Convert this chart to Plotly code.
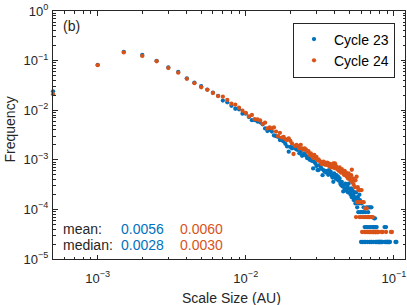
import plotly.graph_objects as go

# ---- data ---------------------------------------------------------------
bin_width = 0.0005
n_bins = 212
scale_size = [round(bin_width * k, 4) for k in range(1, n_bins + 1)]

cycle23 = [
    0.024, 0.082, 0.150, 0.130, 0.099, 0.073, 0.059, 0.044, 0.036, 0.0305,
    0.026, 0.0225, 0.0195, 0.0156, 0.0144, 0.0123, 0.0107, 0.0104, 0.0085, 0.0085,
    0.0073, 0.0063, 0.0063, 0.0059, 0.0057, 0.0052, 0.0043, 0.0038, 0.0040, 0.0037,
    0.0031, 0.0030, 0.0029, 0.0025, 0.0025, 0.00235, 0.0021, 0.00186, 0.00146, 0.00182,
    0.0017, 0.0018, 0.0017, 0.00162, 0.00158, 0.00135, 0.00145, 0.0012, 0.00128, 0.00135,
    0.0012, 0.00108, 0.00112, 0.00100, 0.00105, 0.00095, 0.00067, 0.00091, 0.00085, 0.00075,
    0.00062, 0.00062, 0.00078, 0.00072, 0.00066, 0.00049, 0.00062, 0.00058, 0.00059, 0.00055,
    0.00060, 0.00050, 0.00062, 0.00052, 0.00057, 0.00048, 0.00044, 0.00036, 0.00053, 0.00046,
    0.00042, 0.00049, 0.00040, 0.00046, 0.00038, 0.00042, 0.00033, 0.00031, 0.00036, 0.00029,
    0.00023, 0.00031, 0.00026, 0.00033, 0.00024, 0.00026, 0.00029, 0.00022, 0.00033, 0.00026,
    # k = 101 .. 212 (low counts)
    2.2e-4, 1.98e-4, 2.64e-4, 1.76e-4, 2.42e-4, 1.98e-4, 1.54e-4, 2.2e-4, 1.76e-4, 1.32e-4,
    2.2e-4, 1.54e-4, 1.1e-4, 1.76e-4, 8.8e-5, 1.32e-4, 1.98e-4, 1.54e-4, 8.8e-5, 2.2e-5,
    1.32e-4, 8.8e-5, 2.2e-5, 8.8e-5, 1.1e-4, 2.2e-5, 4.4e-5, 8.8e-5, 2.2e-5, 4.4e-5,
    1.1e-4, 4.4e-5, 2.2e-5, 8.8e-5, 1.1e-4, 4.4e-5, 2.2e-5, 1.1e-4, 4.4e-5, 2.2e-5,
    1.1e-4, 2.2e-5, 4.4e-5, None, 2.2e-5, 4.4e-5, 6.6e-5, 4.4e-5, 6.6e-5, 2.2e-5,
    4.4e-5, 2.2e-5, 4.4e-5, 2.2e-5, None, 2.2e-5, 2.2e-5, None, 2.2e-5, 2.2e-5,
    2.2e-5, None, 2.2e-5, 2.2e-5, None, 2.2e-5, 2.2e-5, None, None, None,
    None, None, 4.4e-5, 2.2e-5, 2.2e-5, None, 4.4e-5, 2.2e-5, None, 2.2e-5,
    2.2e-5, None, 2.2e-5, None, 2.2e-5, None, 2.2e-5, 2.2e-5, None, None,
    None, None, None, None, None, None, None, None, None, None,
    None, None, None, None, 2.2e-5, None, None, 2.2e-5, None, None,
    None, None,
]

cycle24 = [
    0.021, 0.081, 0.146, 0.124, 0.097, 0.071, 0.057, 0.043, 0.035, 0.029,
    0.0258, 0.0222, 0.0193, 0.0187, 0.0161, 0.0135, 0.0129, 0.0112, 0.0098, 0.0088,
    0.0075, 0.0080, 0.0066, 0.0065, 0.0062, 0.0053, 0.0056, 0.0043, 0.0045, 0.0043,
    0.0045, 0.0037, 0.0030, 0.0035, 0.0028, 0.0029, 0.0026, 0.0025, 0.0027, 0.0024,
    0.00214, 0.00131, 0.0019, 0.0020, 0.0019, 0.0017, 0.0020, 0.0017, 0.0016, 0.0017,
    0.0016, 0.00145, 0.0015, 0.00126, 0.00135, 0.00118, 0.0011, 0.00125, 0.00108, 0.00115,
    0.00098, 0.00102, 0.00095, 0.00091, 0.00082, 0.00085, 0.00092, 0.00080, 0.00087, 0.00079,
    0.00088, 0.00085, 0.00075, 0.00083, 0.00070, 0.00078, 0.00072, 0.00085, 0.00068, 0.00085,
    0.00075, 0.00072, 0.00064, 0.00068, 0.00060, 0.00070, 0.00062, 0.00055, 0.00065, 0.00058,
    0.00057, 0.00050, 0.00060, 0.00049, 0.00055, 0.00046, 0.00052, 0.00042, 0.00053, 0.00045,
    # k = 101 .. 212 (low counts)
    4.55e-4, 3.85e-4, 4.9e-4, 6.3e-4, 3.5e-4, 4.2e-4, 3.15e-4, 3.85e-4, 2.8e-4, 3.85e-4,
    7.0e-5, 4.55e-4, 1.4e-4, 2.8e-4, 2.45e-4, 1.4e-4, 7.0e-5, 2.45e-4, 1.4e-4, 7.0e-5,
    2.45e-4, 3.5e-5, 1.4e-4, 7.0e-5, 1.4e-4, 3.5e-5, 7.0e-5, 1.05e-4, 3.5e-5, 7.0e-5,
    1.05e-4, 3.5e-5, 7.0e-5, 3.5e-5, 7.0e-5, 3.5e-5, 7.0e-5, 3.5e-5, 3.5e-5, 7.0e-5,
    3.5e-5, 7.0e-5, 3.5e-5, 7.0e-5, 3.5e-5, 3.5e-5, 3.5e-5, None, 3.5e-5, 3.5e-5,
    3.5e-5, 3.5e-5, None, 3.5e-5, 3.5e-5, 3.5e-5, 3.5e-5, None, None, None,
    None, None, None, None, 3.5e-5, None, None, 3.5e-5, None, None,
    None, None, None, None, None, None, 3.5e-5, None, None, None,
    None, None, None, None, None, None, None, None, None, None,
    3.5e-5, None, None, 3.5e-5, None, None, None, None, None, None,
    None, None, None, None, None, None, None, None, None, None,
    None, None,
]

series_names = ["Cycle 23", "Cycle 24"]
series_colors = ["#0072BD", "#D95319"]
mean_values = ["0.0056", "0.0060"]
median_values = ["0.0028", "0.0030"]

x_tick_vals = [1e-3, 1e-2, 1e-1]
x_tick_text = ["10<sup>−3</sup>", "10<sup>−2</sup>", "10<sup>−1</sup>"]
y_tick_vals = [1e-5, 1e-4, 1e-3, 1e-2, 1e-1, 1]
y_tick_text = ["10<sup>−5</sup>", "10<sup>−4</sup>", "10<sup>−3</sup>",
               "10<sup>−2</sup>", "10<sup>−1</sup>", "10<sup>0</sup>"]

# ---- figure -------------------------------------------------------------
axis_color = "#262626"
font_family = "Liberation Sans, Arial, Helvetica, sans-serif"
W, H = 407, 305
ML, MR, MT, MB = 53, 2, 11, 46
PW, PH = W - ML - MR, H - MT - MB


def px_x(x):  # page px -> paper
    return (x - ML) / PW


def px_y(y):  # page px -> paper
    return (H - MB - y) / PH


def minor_vals(decades):
    return [m * 10.0 ** d for d in decades for m in range(2, 10)]


fig = go.Figure()
for name, ys, col in zip(series_names, [cycle23, cycle24], series_colors):
    fig.add_trace(go.Scatter(
        x=scale_size, y=ys, mode="markers", name=name,
        marker=dict(size=4.3, color=col, line=dict(width=0)),
        cliponaxis=False,
    ))

axis_common = dict(
    type="log",
    automargin=False,
    showgrid=False, zeroline=False,
    showline=True, linecolor=axis_color, linewidth=1,
    mirror="allticks",
    ticks="inside", ticklen=4.5, tickcolor=axis_color, tickwidth=1,
    tickmode="array",
    tickfont=dict(family=font_family, size=13, color=axis_color),
)
minor_common = dict(ticks="inside", ticklen=2.5, tickcolor=axis_color, tickwidth=1,
                    showgrid=False, tickmode="array")

fig.update_xaxes(
    **axis_common, range=[-3.3016, -0.925], ticklabelstandoff=7,
    tickvals=x_tick_vals, ticktext=x_tick_text,
    minor=dict(**minor_common, tickvals=minor_vals([-4, -3, -2, -1])),
)
fig.update_yaxes(
    **axis_common, range=[-5, 0], ticklabelstandoff=1,
    tickvals=y_tick_vals, ticktext=y_tick_text,
    minor=dict(**minor_common, tickvals=minor_vals([-5, -4, -3, -2, -1])),
)

annotations = [
    dict(text="(b)", x=px_x(61), y=px_y(26), color=axis_color),
    dict(text="mean:", x=px_x(60.5), y=px_y(228.5), color=axis_color),
    dict(text="median:", x=px_x(60.5), y=px_y(245), color=axis_color),
    dict(text=mean_values[0], x=px_x(119), y=px_y(228.5), color=series_colors[0]),
    dict(text=median_values[0], x=px_x(119), y=px_y(245), color=series_colors[0]),
    dict(text=mean_values[1], x=px_x(178), y=px_y(228.5), color=series_colors[1]),
    dict(text=median_values[1], x=px_x(178), y=px_y(245), color=series_colors[1]),
]
for a in annotations:
    fig.add_annotation(
        text=a["text"], x=a["x"], y=a["y"], xref="paper", yref="paper",
        xanchor="left", yanchor="middle", showarrow=False,
        font=dict(family=font_family, size=14, color=a["color"]),
    )

# axis titles as annotations for exact placement
fig.add_annotation(
    text="Scale Size (AU)", x=px_x(231.5), y=px_y(297.5), xref="paper", yref="paper",
    xanchor="center", yanchor="middle", showarrow=False,
    font=dict(family=font_family, size=14, color=axis_color),
)
fig.add_annotation(
    text="Frequency", x=px_x(9.5), y=px_y(130), xref="paper", yref="paper",
    xanchor="center", yanchor="middle", showarrow=False, textangle=-90,
    font=dict(family=font_family, size=14, color=axis_color),
)

fig.update_layout(
    width=W, height=H,
    margin=dict(l=ML, r=MR, t=MT, b=MB, autoexpand=False),
    paper_bgcolor="white", plot_bgcolor="white",
    font=dict(family=font_family, size=14, color=axis_color),
    showlegend=True,
    legend=dict(
        x=px_x(395), y=px_y(22.5), xanchor="right", yanchor="top",
        bgcolor="white", bordercolor=axis_color, borderwidth=1,
        font=dict(family=font_family, size=14, color="black"),
        itemwidth=30, tracegroupgap=0,
    ),
)

# remove the page's default body margin so the figure sits at the window corner
fig.write_html(
    "out.html",
    config={"displayModeBar": False},
    post_script="document.body.style.margin='0';document.body.style.overflow='hidden';",
)
